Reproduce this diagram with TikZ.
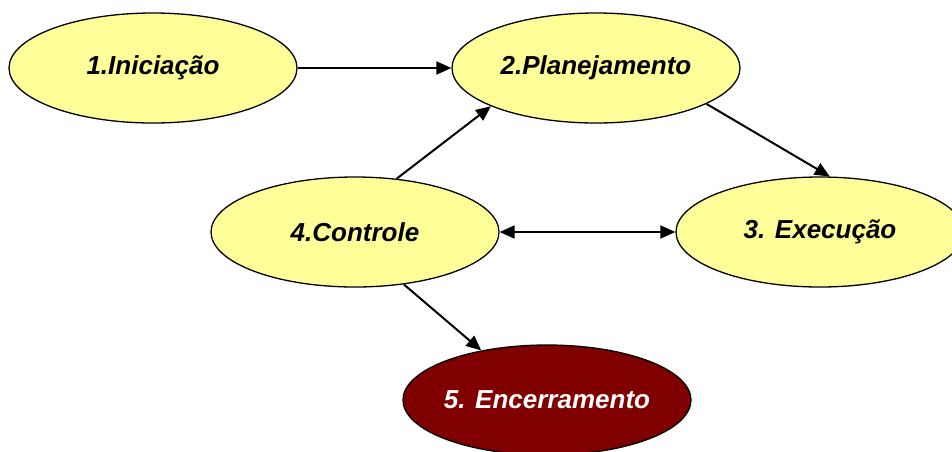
\documentclass[tikz,border=0pt]{standalone}
\usepackage{fontspec}
\setmainfont{Liberation Sans}
\usetikzlibrary{arrows.meta,positioning,shapes.geometric}
\definecolor{phaseyellow}{HTML}{FFFF99}
\definecolor{closingred}{HTML}{800000}

\begin{document}
\begin{tikzpicture}[
    x=1pt,y=-1pt,
    phase/.style={ellipse,draw,line width=1.3pt,fill=phaseyellow,inner sep=0pt,inner xsep=-8pt,
      minimum width=288pt,minimum height=110pt,font=\fontsize{26}{30}\selectfont\bfseries\itshape},
    closing/.style={phase,fill=closingred,text=white},
    link/.style={line width=2pt,-{Triangle[length=15pt,width=13pt]}},
    >=Latex]
    \useasboundingbox (0,0) rectangle (952,451);
    \node[phase] (start) at (153,68) {1.Iniciação};
    \node[phase] (plan) at (596,68) {2.Planejamento};
    \node[phase,minimum width=288pt] (exec) at (820,232) {3. Execução};
    \node[phase] (ctrl) at (355,232) {4.Controle};
    \node[closing] (close) at (547,400) {5. Encerramento};
    \draw[link] (start) -- (plan);
    \draw[link] (ctrl.52) -- (plan.200);
    \draw[link] (plan.342) -- (exec.80);
    \draw[link,{Triangle[length=15pt,width=13pt]}-{Triangle[length=15pt,width=13pt]}] (ctrl) -- (exec);
    \draw[link] (ctrl.313) -- (close.143);
  \end{tikzpicture}
\end{document}
